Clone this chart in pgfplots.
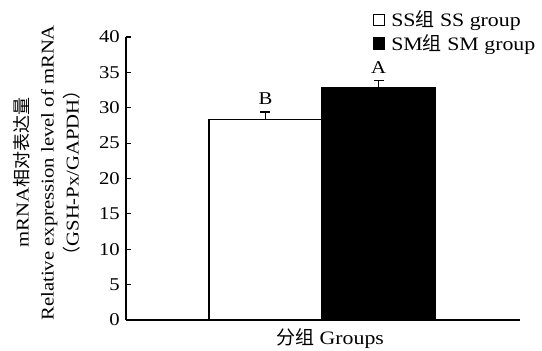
\documentclass[border=0pt]{standalone}
\usepackage{fontspec}
\setmainfont{Liberation Serif}[FakeStretch=1.15]
\newfontfamily\cjk{Noto Sans CJK SC}
\usepackage{pgfplots}
\pgfplotsset{compat=1.18}
\begin{document}
\fontsize{18}{25}\selectfont
\begin{tikzpicture}
\path[use as bounding box] (0,0) rectangle (542pt,351pt);
\begin{axis}[
  at={(126pt,31pt)}, anchor=origin,
  scale only axis, width=394pt, height=283pt,
  xmin=0, xmax=394, ymin=0, ymax=40,
  axis x line=bottom, axis y line=left,
  axis line style={-, line width=1.2pt},
  xtick=\empty,
  ytick={0,5,...,40},
  tick align=inside,
  major tick length=5pt,
  tick style={line width=1.2pt, black},
  /pgf/number format/assume math mode=true,
  ticklabel style={font=\fontsize{18}{20}\selectfont},
  ylabel={mRNA{\cjk 相对表达量}\\Relative expression level of mRNA\\{\cjk （}GSH-Px/GAPDH{\cjk ）}},
  ylabel style={align=center, at={(rel axis cs:-0.10,0.52)}, anchor=south, font=\fontsize{18}{25}\selectfont},
  xlabel={{\cjk 分组}\ Groups},
  xlabel style={at={(rel axis cs:0.518,0)}, anchor=base, yshift=-25pt, font=\fontsize{19}{22}\selectfont},
  legend style={at={(rel axis cs:0.624,1.105)}, anchor=north west, draw=none, fill=none,
    font=\fontsize{19}{20}\selectfont, row sep=1pt, inner sep=1pt,
    cells={anchor=west}},
  legend cell align=left,
]
\addplot[ybar, bar shift=0pt, bar width=113, fill=white, draw=black, line width=1.2pt,
  error bars/.cd, y dir=plus, y explicit,
  error bar style={line width=1.2pt},
  error mark options={rotate=90, mark size=5pt, line width=1.2pt},
  ]
  coordinates {(139.5,28.3) +- (0,1.1)};
\addlegendimage{legend image code/.code={\draw[black, line width=1.2pt, fill=white] (0pt,-5.5pt) rectangle (11pt,5.5pt);}}
\addplot[ybar, bar shift=0pt, bar width=113, fill=black, draw=black, line width=1.2pt,
  error bars/.cd, y dir=plus, y explicit,
  error bar style={line width=1.2pt},
  error mark options={rotate=90, mark size=5pt, line width=1.2pt},
  ]
  coordinates {(252.5,32.8) +- (0,1.0)};
\addlegendimage{legend image code/.code={\draw[black, line width=1.2pt, fill=black] (0pt,-5.5pt) rectangle (11pt,5.5pt);}}
\legend{,\hspace{4pt}SS{\cjk 组}\ SS group,,\hspace{4pt}SM{\cjk 组}\ SM group}
\node[anchor=base, font=\fontsize{18}{20}\selectfont] at (axis cs:139.5,30.4) {B};
\node[anchor=base, font=\fontsize{18}{20}\selectfont] at (axis cs:252.5,34.8) {A};
\end{axis}
\end{tikzpicture}
\end{document}
